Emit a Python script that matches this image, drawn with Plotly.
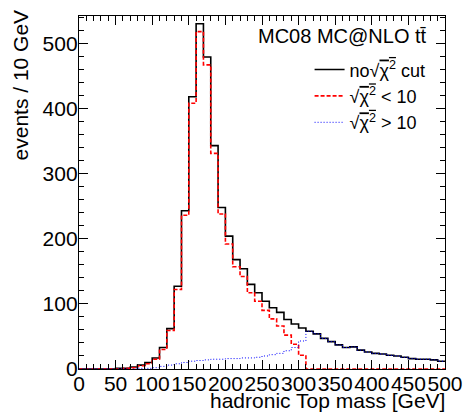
import plotly.graph_objects as go

# bin edges 0..500 GeV, 10 GeV bins
bin_edges = list(range(0, 510, 10))

no_cut = [0, 0, 0, 0, 0, 1, 1, 3, 6, 10,
          17, 33, 62, 127, 243, 418, 530, 479, 343, 248,
          204, 168, 154, 130, 117, 104, 94, 87, 76, 69,
          63, 58, 54, 47, 42, 37, 33, 34, 29, 26,
          24, 23, 21, 20, 18, 16, 15, 15, 14, 12]

chi_lt10 = [0, 0, 0, 0, 0, 0, 1, 2, 5, 8,
            15, 30, 59, 122, 236, 408, 518, 467, 331, 238,
            192, 157, 142, 117, 104, 90, 77, 66, 52, 38,
            21, 0, 0, 0, 0, 0, 0, 0, 0, 0,
            0, 0, 0, 0, 0, 0, 0, 0, 0, 0]

chi_gt10 = [0, 0, 0, 0, 0, 0, 0, 0, 1, 1,
            2, 4, 6, 8, 10, 12, 13, 14, 15, 15,
            16, 16, 17, 17, 18, 20, 22, 24, 28, 33,
            43, 58, 54, 47, 42, 37, 33, 34, 29, 26,
            24, 23, 21, 20, 18, 16, 15, 15, 14, 12]

legend_names = ["no\u221a<span style='text-decoration:overline'>\u03c7<sup>2</sup></span> cut",
                "\u221a<span style='text-decoration:overline'>\u03c7<sup>2</sup></span> < 10",
                "\u221a<span style='text-decoration:overline'>\u03c7<sup>2</sup></span> > 10"]

FONT = "Liberation Sans, Arial, Helvetica, sans-serif"


def step(vals):
    return bin_edges, vals + [vals[-1]]


fig = go.Figure()
x, y = step(no_cut)
fig.add_trace(go.Scatter(x=x, y=y, mode="lines", line=dict(shape="hv", color="black", width=1.6),
                         name=legend_names[0]))
x, y = step(chi_lt10)
fig.add_trace(go.Scatter(x=x, y=y, mode="lines", line=dict(shape="hv", color="#ff0000", width=1.6, dash="4px,2px"),
                         name=legend_names[1]))
x, y = step(chi_gt10)
fig.add_trace(go.Scatter(x=x, y=y, mode="lines", line=dict(shape="hv", color="#0000ff", width=1, dash="1px,2px"),
                         name=legend_names[2]))

axis_common = dict(
    showgrid=False, zeroline=False, showline=True, linecolor="black", linewidth=1.3,
    mirror="allticks", ticks="inside", ticklen=9, tickwidth=1.2, tickcolor="black",
    tickfont=dict(family=FONT, size=21, color="black"), automargin=False, tickangle=0,
    ticklabelstandoff=-4,
)

fig.update_layout(
    width=464, height=415,
    margin=dict(l=79, r=19, t=16, b=46),
    paper_bgcolor="white", plot_bgcolor="white",
    font=dict(family=FONT, color="black"),
    xaxis=dict(range=[0, 500], tickmode="linear", tick0=0, dtick=50,
               minor=dict(dtick=10, ticklen=5, tickwidth=1, tickcolor="black", ticks="inside"),
               **axis_common),
    yaxis=dict(range=[0, 542], tickmode="linear", tick0=0, dtick=100,
               minor=dict(dtick=20, ticklen=5, tickwidth=1, tickcolor="black", ticks="inside"),
               **axis_common),
    showlegend=True,
    legend=dict(x=0.63, y=0.90, xanchor="left", yanchor="top", bgcolor="rgba(0,0,0,0)",
                font=dict(family=FONT, size=18, color="black"), itemwidth=30),
    annotations=[
        dict(text="MC08 MC@NLO tt\u0304", xref="paper", yref="paper", x=0.955, y=0.943,
             xanchor="right", yanchor="middle", showarrow=False,
             font=dict(family=FONT, size=20, color="black")),
        dict(text="hadronic Top mass [GeV]", xref="paper", yref="paper", x=1.006, y=-0.09,
             xanchor="right", yanchor="middle", showarrow=False,
             font=dict(family=FONT, size=21, color="black")),
        dict(text="events / 10 GeV", xref="paper", yref="paper", x=-0.16, y=1.024,
             xanchor="center", yanchor="top", textangle=-90, showarrow=False,
             font=dict(family=FONT, size=21, color="black")),
    ],
)

fig.write_html("out.html", post_script="document.body.style.margin='0px';",
               config={"displayModeBar": False})
